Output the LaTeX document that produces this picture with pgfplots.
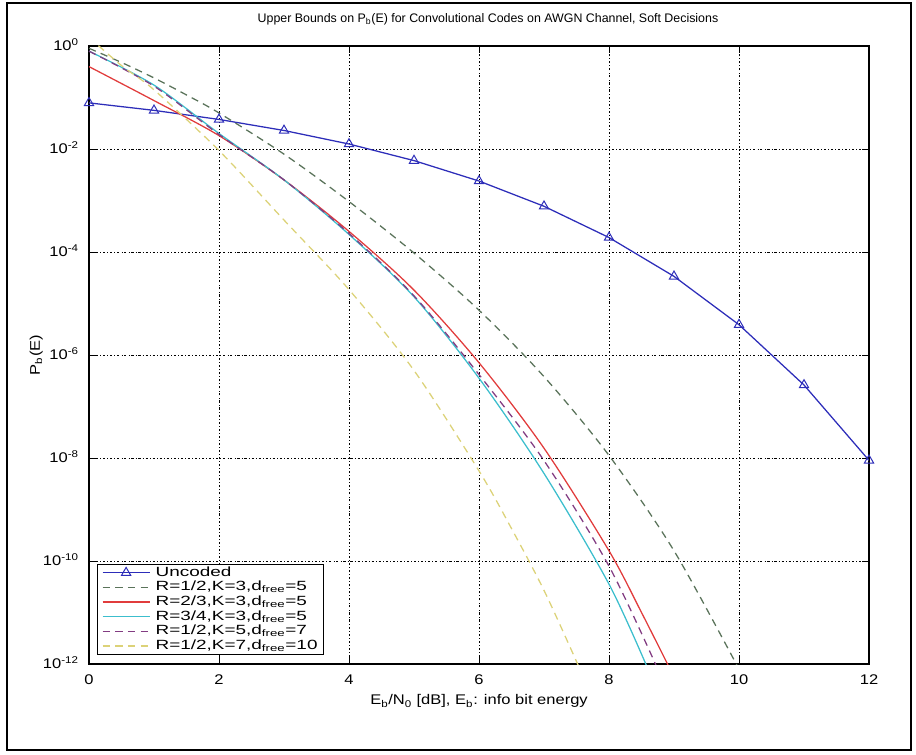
\documentclass[border=0pt]{standalone}
\usepackage{fontspec}
\setmainfont{Liberation Sans}
\newfontfamily\wfont[FakeStretch=1.18]{Liberation Sans}
\newfontfamily\lfont[FakeStretch=1.42]{Liberation Sans}
\usepackage{pgfplots}
\pgfplotsset{compat=1.18}
\definecolor{cUnc}{RGB}{45,45,185}
\definecolor{cGrn}{RGB}{90,115,90}
\definecolor{cRed}{RGB}{225,60,60}
\definecolor{cCya}{RGB}{60,190,205}
\definecolor{cPur}{RGB}{130,60,130}
\definecolor{cYel}{RGB}{220,210,120}
\begin{document}
\begin{tikzpicture}
\path (-66.75pt,-68.25pt) rectangle (620.25pt,498pt);
\draw[line width=1.2pt] (-61.5pt,-64.5pt) rectangle (616.5pt,495.75pt);
\begin{axis}[
  at={(0,0)}, anchor=south west,
  width=585pt, height=463.5pt, scale only axis,
  ymode=log, xmin=0, xmax=12, ymin=1e-12, ymax=1,
  xtick={0,2,...,12},
  ytick={1e-12,1e-10,1e-8,1e-6,1e-4,1e-2,1},
  yticklabels={10\textsuperscript{-12},10\textsuperscript{-10},10\textsuperscript{-8},10\textsuperscript{-6},10\textsuperscript{-4},10\textsuperscript{-2},10\textsuperscript{0}},
  minor y tick num=0,
  /pgf/number format/assume math mode=true,
  tick align=inside, major tick length=5pt,
  tick style={black, line width=0.6pt},
  axis line style={black, line width=0.9pt},
  grid=major,
  major grid style={black, line width=0.6pt, dash pattern=on 1.6pt off 1.6pt on 0.5pt off 1.6pt},
  ticklabel style={font=\wfont\fontsize{10.5}{12}\selectfont},
  xticklabel style={anchor=base, inner sep=0pt, yshift=-15.5pt},
  yticklabel style={anchor=base east, inner sep=0pt, xshift=-7.5pt, yshift=-3.7pt},
  title={Upper Bounds on P\textsubscript{b}(E) for Convolutional Codes on AWGN Channel, Soft Decisions},
  every axis title/.style={at={(0.5115,1.0388)}, anchor=base, font=\fontsize{9.3}{11}\selectfont, inner sep=0pt},
  xlabel={E\textsubscript{b}/N\textsubscript{0} [dB], E\textsubscript{b}: info bit energy},
  every axis x label/.style={at={(0.5,-0.0663)}, anchor=base, font=\wfont\fontsize{10.5}{12}\selectfont, inner sep=0pt},
  ylabel={P\textsubscript{b}(E)},
  every axis y label/.style={at={(-0.063,0.5)}, rotate=90, anchor=base, font=\wfont\fontsize{10.5}{12}\selectfont, inner sep=0pt},
  legend cell align=left,
  legend image code/.code={\draw[mark repeat=2, mark phase=2, #1] plot coordinates {(0cm,0cm) (0.62cm,0cm) (1.24cm,0cm)};},
  legend style={at={(0.0103,0.0146)}, anchor=south west,
    font=\lfont\fontsize{10}{11}\selectfont, row sep=0pt, inner xsep=3.5pt, inner ysep=1pt,
    nodes={inner sep=0.5pt, text height=7.5pt, text depth=2.5pt},
    /tikz/every odd column/.append style={column sep=3.5pt}},
]
\addplot[cUnc, line width=0.95pt, mark=triangle, mark size=4pt, mark options={solid, line width=0.75pt}] coordinates {
(0,7.865e-2) (1,5.628e-2) (2,3.751e-2) (3,2.288e-2) (4,1.250e-2) (5,5.954e-3) (6,2.388e-3)
(7,7.727e-4) (8,1.909e-4) (9,3.363e-5) (10,3.872e-6) (11,2.613e-7) (12,9.006e-9)};
\addlegendentry{Uncoded}
\addplot[cGrn, line width=0.95pt, dash pattern=on 5.5pt off 4pt, smooth] coordinates {
(0,0.902) (0.5,0.479) (1,0.240) (1.5,0.112) (2,0.0501) (3,7.94e-3) (4,9.55e-4) (5,9.55e-5)
(6,7.41e-6) (7,3.80e-7) (8,1.12e-8) (9,1.58e-10) (10,7.94e-13)};
\addlegendentry{R=1/2,K=3,d\textsubscript{free}=5}
\addplot[cRed, line width=0.95pt, smooth] coordinates {
(0,0.398) (1,0.0871) (2,0.0182) (3,2.51e-3) (4,2.51e-4) (5,1.82e-5) (6,7.08e-7)
(7,1.55e-8) (8,1.58e-10) (8.5,1.0e-11) (8.92,8.9e-13)};
\addlegendentry{R=2/3,K=3,d\textsubscript{free}=5}
\addplot[cCya, line width=0.95pt, smooth] coordinates {
(0,0.794) (1,0.174) (2,0.0200) (3,2.51e-3) (4,2.19e-4) (5,1.35e-5) (6,3.55e-7)
(7,5.01e-9) (8,3.55e-11) (8.6,7.94e-13)};
\addlegendentry{R=3/4,K=3,d\textsubscript{free}=5}
\addplot[cPur, line width=0.95pt, dash pattern=on 5.5pt off 4pt, smooth] coordinates {
(0,0.794) (1,0.166) (2,0.0191) (3,2.51e-3) (4,2.29e-4) (5,1.41e-5) (6,4.17e-7)
(7,8.91e-9) (8,7.94e-11) (8.75,7.94e-13)};
\addlegendentry{R=1/2,K=5,d\textsubscript{free}=7}
\addplot[cYel, line width=0.95pt, dash pattern=on 5.5pt off 4pt, smooth] coordinates {
(0,1.48) (0.5,0.417) (1,0.141) (2,9.33e-3) (3,4.17e-4) (4,1.86e-5) (5,5.01e-7)
(6,5.62e-9) (6.5,4.27e-10) (7,2.69e-11) (7.5,1.12e-12) (7.6,5.6e-13)};
\addlegendentry{R=1/2,K=7,d\textsubscript{free}=10}
\end{axis}
\end{tikzpicture}
\end{document}
